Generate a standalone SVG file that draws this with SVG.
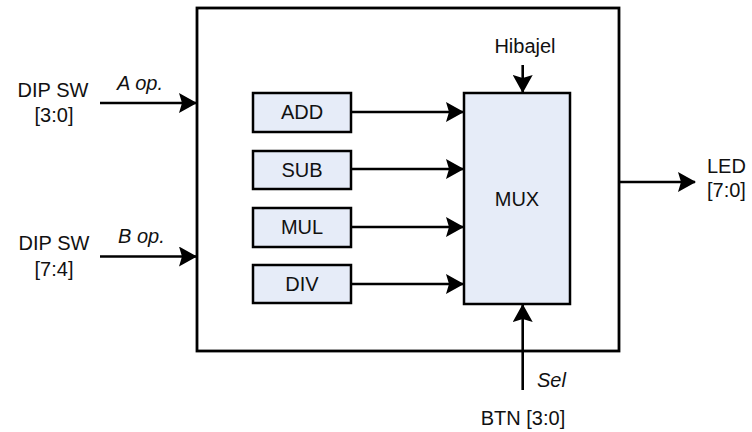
<svg xmlns="http://www.w3.org/2000/svg" width="752" height="432" viewBox="0 0 752 432">
<style>
text{font-family:"Liberation Sans",Arial,sans-serif;font-size:20px;fill:#111}
.c{text-anchor:middle}
.i{font-style:italic}
.box{fill:#e6ecf8;stroke:#000;stroke-width:2.5}
.outer{fill:#fff;stroke:#000;stroke-width:2.8}
.w{stroke:#000;stroke-width:2.6;fill:none}
</style>
<defs>
<marker id="ah" viewBox="0 0 18 20" refX="17" refY="10" markerWidth="18" markerHeight="20" markerUnits="userSpaceOnUse" orient="auto">
<path d="M0,0 L18,10 L0,20 L3,10 Z" fill="#000"/>
</marker>
</defs>
<g id="system"><rect class="outer" x="197" y="8" width="422" height="343"/></g>
<g id="add"><rect class="box" x="253" y="93" width="98" height="39"/><text class="c" x="302" y="119">ADD</text></g>
<g id="sub"><rect class="box" x="253" y="151" width="98" height="38"/><text class="c" x="302" y="177">SUB</text></g>
<g id="mul"><rect class="box" x="253" y="208" width="98" height="39"/><text class="c" x="302" y="234">MUL</text></g>
<g id="div"><rect class="box" x="253" y="265" width="98" height="38"/><text class="c" x="302" y="291">DIV</text></g>
<g id="mux"><rect class="box" x="464" y="93" width="106" height="211"/><text class="c" x="517" y="206">MUX</text></g>
<g id="labels">
<text class="c" x="53" y="97">DIP SW</text>
<text class="c" x="54" y="122">[3:0]</text>
<text class="c" x="54" y="250">DIP SW</text>
<text class="c" x="54" y="276">[7:4]</text>
<text class="i" x="117" y="90">A op.</text>
<text class="i" x="118" y="243">B op.</text>
<text class="c" x="525" y="53">Hibajel</text>
<text x="707" y="173">LED</text>
<text x="707" y="197">[7:0]</text>
<text class="i" x="537" y="387">Sel</text>
<text class="c" x="523" y="425">BTN [3:0]</text>
</g>
<g id="connectors">
<line class="w" x1="100" y1="103" x2="196" y2="103" marker-end="url(#ah)"/>
<line class="w" x1="100" y1="256.5" x2="196" y2="256.5" marker-end="url(#ah)"/>
<line class="w" x1="351" y1="112" x2="463" y2="112" marker-end="url(#ah)"/>
<line class="w" x1="351" y1="169" x2="463" y2="169" marker-end="url(#ah)"/>
<line class="w" x1="351" y1="227" x2="463" y2="227" marker-end="url(#ah)"/>
<line class="w" x1="351" y1="284" x2="463" y2="284" marker-end="url(#ah)"/>
<line class="w" x1="522.7" y1="65" x2="522.7" y2="92" marker-end="url(#ah)"/>
<line class="w" x1="522.7" y1="390" x2="522.7" y2="305" marker-end="url(#ah)"/>
<line class="w" x1="619" y1="182" x2="695" y2="182" marker-end="url(#ah)"/>
</g>
</svg>
